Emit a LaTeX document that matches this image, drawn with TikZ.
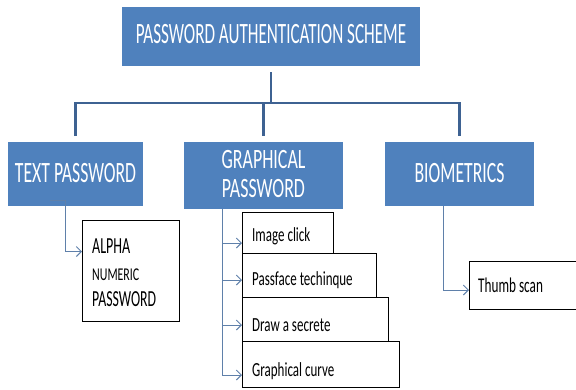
\documentclass[tikz,border=0pt]{standalone}
\usepackage{fontspec}
\setmainfont{Carlito}
\usepackage{graphicx}
\usetikzlibrary{arrows.meta}
\definecolor{boxblue}{RGB}{79,129,189}
\definecolor{trunkblue}{RGB}{62,98,146}
\definecolor{linkblue}{RGB}{95,128,170}
\newcommand\narrow[2]{\scalebox{#1}[1]{#2}}
\begin{document}
\begin{tikzpicture}[x=1pt,y=-1pt,
  bluebox/.style={fill=boxblue, draw=none, inner sep=0pt, outer sep=0pt, anchor=north west},
  whitebox/.style={draw=black, line width=1pt, fill=white, inner sep=0pt, outer sep=0pt, anchor=north west},
  maintext/.style={text=white, inner sep=0pt, anchor=base},
  subtext/.style={text=black, inner sep=0pt, anchor=base west, font=\fontsize{20}{22}\selectfont},
  trunk/.style={draw=trunkblue, line width=2.5pt, line join=miter},
  link/.style={draw=linkblue, line width=1pt, -{Straight Barb[length=5pt,width=10pt]}}]
\useasboundingbox (0,0) rectangle (576,389);

% main blue boxes
\node[bluebox, minimum width=298pt, minimum height=59pt] (top) at (122,7) {};
\node[bluebox, minimum width=135pt, minimum height=64pt] (tp) at (8,142) {};
\node[bluebox, minimum width=159pt, minimum height=67pt] (gp) at (184,142) {};
\node[bluebox, minimum width=149pt, minimum height=64pt] (bio) at (385,142) {};

\node[maintext, font=\fontsize{29.5}{30}\selectfont] (toptxt) at (271,43) {\narrow{0.58}{PASSWORD AUTHENTICATION SCHEME}};
\node[maintext, font=\fontsize{29.5}{30}\selectfont] (tptxt) at (75.5,182) {\narrow{0.6}{TEXT PASSWORD}};
\node[maintext, font=\fontsize{28}{30}\selectfont] (gptxta) at (263.5,168) {\narrow{0.64}{GRAPHICAL}};
\node[maintext, font=\fontsize{28}{30}\selectfont] (gptxtb) at (263.5,197) {\narrow{0.64}{PASSWORD}};
\node[maintext, font=\fontsize{29.5}{30}\selectfont] (biotxt) at (459.5,182) {\narrow{0.6}{BIOMETRICS}};

% trunk lines
\coordinate (hub) at (271,103);
\draw[trunk, shorten <=6pt] (top.south) -- (hub);
\draw[trunk, shorten <=6pt, shorten >=6pt] (tp.north) |- (hub) -| (bio.north);
\draw[trunk, shorten >=6pt] (gp.north |- hub) -- (gp.north);

% white boxes
\node[whitebox, minimum width=97pt, minimum height=101pt] (alpha) at (82,220) {};
\node[whitebox, minimum width=91pt, minimum height=41pt] (img) at (242,212) {};
\node[whitebox, minimum width=134pt, minimum height=44pt] (pass) at (242,253) {};
\node[whitebox, minimum width=146pt, minimum height=44pt] (drw) at (242,297) {};
\node[whitebox, minimum width=157pt, minimum height=46pt] (curve) at (242,341) {};
\node[inner sep=0pt, outer sep=0pt, anchor=north west, minimum width=107pt, minimum height=48pt] (thumb) at (469,261) {};
\draw[black, line width=1pt] (thumb.north east) -- (thumb.north west) -- (thumb.south west) -- (thumb.south east);

% texts in white boxes
\node[subtext, font=\fontsize{23}{24}\selectfont] (alphaa) at (92,253) {\narrow{0.61}{ALPHA}};
\node[subtext, font=\fontsize{18}{20}\selectfont] (alphab) at (92,280) {\narrow{0.66}{NUMERIC}};
\node[subtext, font=\fontsize{23}{24}\selectfont] (alphac) at (92,306) {\narrow{0.6}{PASSWORD}};
\node[subtext] (imgtxt) at (252,241) {\narrow{0.65}{Image click}};
\node[subtext] (passtxt) at (252,285) {\narrow{0.65}{Passface techinque}};
\node[subtext] (drwtxt) at (252,331) {\narrow{0.65}{Draw a secrete}};
\node[subtext] (curvetxt) at (252,376) {\narrow{0.65}{Graphical curve}};
\node[subtext, font=\fontsize{21}{22}\selectfont] (thumbtxt) at (478,292) {\narrow{0.63}{Thumb scan}};

% thin connectors
\coordinate (tpstart) at (50,200);
\draw[link] (tpstart) -- ++(15,0) |- ([yshift=19pt]alpha.west);
\draw[link] ([xshift=-41.5pt]gp.south) |- ([yshift=-10.5pt]img.west);
\draw[link] ([xshift=-41.5pt]gp.south) |- ([yshift=-5pt]pass.west);
\draw[link] ([xshift=-41.5pt]gp.south) |- ([yshift=-6pt]drw.west);
\draw[link] ([xshift=-41.5pt]gp.south) |- ([yshift=-11pt]curve.west);
\draw[link] ([xshift=-16.5pt]bio.south) |- ([yshift=-5pt]thumb.west);
\end{tikzpicture}
\end{document}
